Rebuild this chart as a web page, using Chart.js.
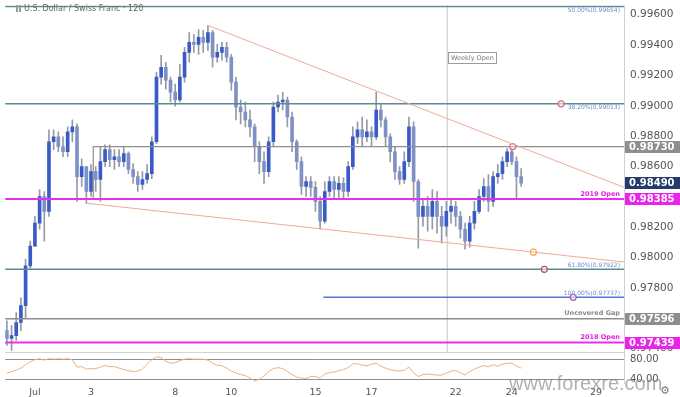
<!DOCTYPE html>
<html>
<head>
<meta charset="utf-8">
<script src="https://cdn.jsdelivr.net/npm/chart.js@4.4.1/dist/chart.umd.min.js"></script>
<style>
  html, body { margin: 0; padding: 0; background: #fff; }
  #wrap { width: 680px; height: 397px; position: relative; }
</style>
</head>
<body>
<div id="wrap"><canvas id="chart"></canvas></div>
<script>
// USD/CHF 120 min, late June - July 2019 (x axis in trading days from Jul 1)
const startDay = -1;
const candlesPerDay = 6;

const opens = [
  0.97518, 0.97466, 0.97485, 0.97571, 0.97682, 0.97944, 0.98075, 0.98226, 0.98402, 0.98304,
  0.98763, 0.98795, 0.98730, 0.98697, 0.98828, 0.98861, 0.98533, 0.98599, 0.98435, 0.98566,
  0.98514, 0.98632, 0.98711, 0.98645, 0.98664, 0.98632, 0.98684, 0.98580, 0.98533, 0.98481,
  0.98514, 0.98553, 0.98763, 0.99189, 0.99254, 0.99169, 0.99090, 0.99038, 0.99189, 0.99352,
  0.99418, 0.99405, 0.99451, 0.99418, 0.99483, 0.99320, 0.99352, 0.99385, 0.99320, 0.99156,
  0.98992, 0.98959, 0.98907, 0.98861, 0.98730, 0.98632, 0.98566, 0.98763, 0.98992, 0.99025,
  0.99038, 0.98926, 0.98763, 0.98632, 0.98468, 0.98501, 0.98462, 0.98370, 0.98239, 0.98435,
  0.98501, 0.98448, 0.98488, 0.98435, 0.98599, 0.98795, 0.98841, 0.98795, 0.98828, 0.98795,
  0.98972, 0.98907, 0.98795, 0.98697, 0.98566, 0.98514, 0.98632, 0.98861, 0.98501, 0.98271,
  0.98337, 0.98271, 0.98370, 0.98271, 0.98206, 0.98304, 0.98337, 0.98271, 0.98186, 0.98108,
  0.98226, 0.98304, 0.98402, 0.98468, 0.98370, 0.98533, 0.98553, 0.98632, 0.98697, 0.98632,
  0.98533
];
const highs = [
  0.97583, 0.97551, 0.97636, 0.97734, 0.97990, 0.98108, 0.98271, 0.98448, 0.98435, 0.98841,
  0.98841, 0.98828, 0.98795, 0.98861, 0.98907, 0.98881, 0.98651, 0.98599, 0.98612, 0.98599,
  0.98730, 0.98743, 0.98743, 0.98711, 0.98711, 0.98730, 0.98697, 0.98619, 0.98566, 0.98566,
  0.98612, 0.98795, 0.99221, 0.99333, 0.99287, 0.99189, 0.99143, 0.99274, 0.99385, 0.99483,
  0.99470, 0.99503, 0.99497, 0.99529, 0.99497, 0.99405, 0.99418, 0.99418, 0.99339, 0.99189,
  0.99038, 0.99025, 0.98972, 0.98881, 0.98763, 0.98697, 0.98795, 0.99025, 0.99071, 0.99090,
  0.99058, 0.98959, 0.98776, 0.98664, 0.98533, 0.98533, 0.98501, 0.98402, 0.98501, 0.98533,
  0.98533, 0.98533, 0.98527, 0.98632, 0.98861, 0.98894, 0.98926, 0.98907, 0.98861, 0.99090,
  0.99012, 0.98926, 0.98815, 0.98730, 0.98599, 0.98697, 0.98926, 0.98894, 0.98514, 0.98383,
  0.98402, 0.98448, 0.98435, 0.98337, 0.98370, 0.98389, 0.98370, 0.98304, 0.98226, 0.98271,
  0.98370, 0.98448, 0.98520, 0.98547, 0.98566, 0.98612, 0.98664, 0.98717, 0.98730, 0.98664,
  0.98586
];
const lows = [
  0.97420, 0.97387, 0.97453, 0.97518, 0.97597, 0.97924, 0.98075, 0.98186, 0.98108, 0.98271,
  0.98711, 0.98697, 0.98664, 0.98664, 0.98763, 0.98370, 0.98468, 0.98357, 0.98402, 0.98435,
  0.98370, 0.98599, 0.98599, 0.98580, 0.98599, 0.98599, 0.98553, 0.98488, 0.98435, 0.98448,
  0.98488, 0.98520, 0.98750, 0.99143, 0.99110, 0.99025, 0.98998, 0.99025, 0.99156, 0.99287,
  0.99352, 0.99339, 0.99352, 0.99365, 0.99254, 0.99287, 0.99300, 0.99287, 0.99103, 0.98907,
  0.98881, 0.98861, 0.98795, 0.98632, 0.98553, 0.98488, 0.98533, 0.98730, 0.98959, 0.98972,
  0.98861, 0.98697, 0.98580, 0.98416, 0.98402, 0.98402, 0.98304, 0.98186, 0.98226, 0.98402,
  0.98389, 0.98396, 0.98383, 0.98402, 0.98580, 0.98750, 0.98730, 0.98763, 0.98730, 0.98776,
  0.98861, 0.98730, 0.98632, 0.98514, 0.98481, 0.98488, 0.98599, 0.98370, 0.98062, 0.98206,
  0.98173, 0.98186, 0.98160, 0.98094, 0.98140, 0.98226, 0.98206, 0.98127, 0.98055, 0.98068,
  0.98186, 0.98291, 0.98370, 0.98304, 0.98337, 0.98488, 0.98514, 0.98599, 0.98612, 0.98383,
  0.98468
];
const closes = [
  0.97466, 0.97485, 0.97571, 0.97682, 0.97944, 0.98075, 0.98226, 0.98402, 0.98304, 0.98763,
  0.98795, 0.98730, 0.98697, 0.98828, 0.98861, 0.98533, 0.98599, 0.98435, 0.98566, 0.98514,
  0.98632, 0.98711, 0.98645, 0.98664, 0.98632, 0.98684, 0.98580, 0.98533, 0.98481, 0.98514,
  0.98553, 0.98763, 0.99189, 0.99254, 0.99169, 0.99090, 0.99038, 0.99189, 0.99352, 0.99418,
  0.99405, 0.99451, 0.99418, 0.99483, 0.99320, 0.99352, 0.99385, 0.99320, 0.99156, 0.98992,
  0.98959, 0.98907, 0.98861, 0.98730, 0.98632, 0.98566, 0.98763, 0.98992, 0.99025, 0.99038,
  0.98926, 0.98763, 0.98632, 0.98468, 0.98501, 0.98462, 0.98370, 0.98239, 0.98435, 0.98501,
  0.98448, 0.98488, 0.98435, 0.98599, 0.98795, 0.98841, 0.98795, 0.98828, 0.98795, 0.98972,
  0.98907, 0.98795, 0.98697, 0.98566, 0.98514, 0.98632, 0.98861, 0.98501, 0.98271, 0.98337,
  0.98271, 0.98370, 0.98271, 0.98206, 0.98304, 0.98337, 0.98271, 0.98186, 0.98108, 0.98226,
  0.98304, 0.98402, 0.98468, 0.98370, 0.98533, 0.98553, 0.98632, 0.98697, 0.98632, 0.98533,
  0.98490
];
const rsiValues = [
  52, 55, 58, 62, 69, 75, 79, 81, 78, 81,
  80, 81, 80, 81, 79, 64, 65, 60, 61, 61,
  64, 67, 65, 65, 62, 59, 57, 55, 56, 60,
  70, 79, 85, 83, 76, 72, 73, 77, 80, 81,
  80, 80, 80, 78, 72, 68, 67, 62, 56, 52,
  49, 47, 42, 36, 40, 46, 55, 61, 63, 61,
  55, 49, 44, 42, 41, 45, 45, 42, 50, 53,
  54, 57, 59, 63, 71, 71, 68, 67, 70, 72,
  66, 62, 59, 57, 56, 58, 64, 52, 45, 49,
  50, 49, 48, 48, 52, 56, 57, 53, 48, 55,
  60, 64, 67, 65, 69, 66, 70, 72, 72, 66,
  62
];

const tickDays = [0, 2, 5, 7, 10, 12, 15, 17, 20];
const tickLabels = ['Jul', '3', '8', '10', '15', '17', '22', '24', '29'];
const priceTicks = [0.974, 0.976, 0.978, 0.980, 0.982, 0.986, 0.988, 0.990, 0.992, 0.994, 0.996];
const rsiTicks = [40, 80];

const fibLevels = [0.99654, 0.99013, 0.97922, 0.97737];
const fibNames = ['50.00%(0.99654)', '38.20%(0.99013)', '61.80%(0.97922)', '100.00%(0.97737)'];
const fibStartDays = [-1.1, -1.1, -1.1, 10.28];
const keyLevels = [0.98385, 0.97596, 0.97439];
const keyNames = ['2019 Open', 'Uncovered Gap', '2018 Open'];
const resistance = 0.98730;
const resistanceStartDay = 2.08;
const upperTrendDays = [6.18, 21.0];
const upperTrendValues = [0.99529, 0.98462];
const lowerTrendDays = [1.87, 21.0];
const lowerTrendValues = [0.98357, 0.97970];
const weeklyOpenDay = 14.70;
const markerDays = [17.03, 17.77, 18.16, 18.76, 19.19];
const markerValues = [0.98730, 0.98035, 0.97922, 0.99013, 0.97737];

const xMin = -1.06, xMax = 21.0;

const candleDays = opens.map((_, i) => startDay + i / candlesPerDay);
const lastClose = closes[closes.length - 1];

function line(points, color, width, order) {
  return {
    type: 'line', data: points, borderColor: color, borderWidth: width,
    pointRadius: 0, fill: false, tension: 0, yAxisID: 'y', order: order
  };
}
function hline(value, from, color, width) {
  return line([{ x: from, y: value }, { x: xMax + 1, y: value }], color, width, 1);
}
function noPadding(s) {
  s.paddingTop = 0;
  s.paddingBottom = 0;
  s.paddingLeft = 0;
  s.paddingRight = 0;
}

const datasets = [];
// candles: wick + body as floating bars
datasets.push({
  type: 'bar', yAxisID: 'y', order: 3, grouped: false,
  data: candleDays.map((d, i) => ({ x: d, y: [lows[i], highs[i]] })),
  backgroundColor: '#959aa6', maxBarThickness: 1, barPercentage: 1, categoryPercentage: 1
});
datasets.push({
  type: 'bar', yAxisID: 'y', order: 2, grouped: false,
  data: candleDays.map((d, i) => ({ x: d, y: [opens[i], closes[i]] })),
  backgroundColor: closes.map((c, i) => c >= opens[i] ? '#3a5bc7' : '#7f90c4'),
  maxBarThickness: 3, barPercentage: 1, categoryPercentage: 1, minBarLength: 1
});
// levels
fibLevels.forEach((v, i) => {
  datasets.push(hline(v, fibStartDays[i], i === 3 ? '#5a73d2' : '#5c8a94', 1.5));
});
datasets.push(hline(keyLevels[0], xMin - 1, '#ea2fea', 2));
datasets.push(hline(keyLevels[1], xMin - 1, '#8e8e8e', 1.5));
datasets.push(hline(keyLevels[2], xMin - 1, '#ea2fea', 2));
datasets.push(line([
  { x: resistanceStartDay, y: keyLevels[0] },
  { x: resistanceStartDay, y: resistance },
  { x: xMax + 1, y: resistance }
], '#8e8e8e', 1.2, 1));
// trendlines
datasets.push(line(upperTrendDays.map((d, i) => ({ x: d, y: upperTrendValues[i] })), '#f1a99b', 1, 0));
datasets.push(line(lowerTrendDays.map((d, i) => ({ x: d, y: lowerTrendValues[i] })), '#f1a99b', 1, 0));
// weekly open
datasets.push(line([{ x: weeklyOpenDay, y: 0.9737 }, { x: weeklyOpenDay, y: 0.9970 }], '#c8c8c8', 1, 4));
// markers
datasets.push({
  type: 'line', yAxisID: 'y', order: 0, showLine: false,
  data: markerDays.map((d, i) => ({ x: d, y: markerValues[i] })),
  pointRadius: 3, pointBorderWidth: 1.2,
  pointBackgroundColor: 'rgba(255,255,255,0.5)',
  pointBorderColor: ['#e0707c', '#efaa45', '#b8505e', '#e06a78', '#a060b0']
});
// RSI
datasets.push({
  type: 'line', yAxisID: 'y2', order: 0,
  data: candleDays.map((d, i) => ({ x: d, y: rsiValues[i] })),
  borderColor: '#e8b47e', borderWidth: 1, pointRadius: 0, tension: 0
});

const overlay = {
  id: 'overlay',
  afterDraw(chart) {
    const { ctx, chartArea: a, scales: { x, y, y2 } } = chart;
    ctx.save();

    // top border of the RSI panel
    ctx.strokeStyle = '#d4d4d4';
    ctx.lineWidth = 1;
    ctx.beginPath();
    ctx.moveTo(a.left, Math.round(y2.top) + 0.5);
    ctx.lineTo(a.right, Math.round(y2.top) + 0.5);
    ctx.stroke();

    // fib labels
    const fibSide = [4, 4, -4, -4];
    ctx.textAlign = 'right';
    ctx.textBaseline = 'middle';
    ctx.font = '6px "DejaVu Sans"';
    ctx.fillStyle = '#6d8ccc';
    fibLevels.forEach((v, i) => {
      ctx.fillText(fibNames[i], a.right - 4, y.getPixelForValue(v) + fibSide[i]);
    });

    // key level labels
    ctx.font = 'bold 6.5px "DejaVu Sans"';
    const keyColors = ['#e020e0', '#8a8a8a', '#e020e0'];
    keyLevels.forEach((v, i) => {
      ctx.fillStyle = keyColors[i];
      ctx.fillText(keyNames[i], a.right - 4, y.getPixelForValue(v) - 5);
    });

    // weekly open tag
    const wx = Math.round(x.getPixelForValue(weeklyOpenDay)) + 1.5;
    const wy = Math.round(y.getPixelForValue(0.99316)) - 5.5;
    ctx.fillStyle = '#fff';
    ctx.fillRect(wx, wy, 48, 11);
    ctx.strokeStyle = '#9c9c9c';
    ctx.strokeRect(wx, wy, 48, 11);
    ctx.fillStyle = '#777';
    ctx.font = '6.5px "DejaVu Sans"';
    ctx.textAlign = 'center';
    ctx.fillText('Weekly Open', wx + 24, wy + 6);

    // price tags on the axis
    const tags = [
      [resistance, '#8e8e8e'],
      [lastClose, '#243b6b'],
      [keyLevels[0], '#ea22ea'],
      [keyLevels[1], '#8e8e8e'],
      [keyLevels[2], '#ea22ea']
    ];
    ctx.textAlign = 'left';
    ctx.font = 'bold 10px "DejaVu Sans"';
    tags.forEach(([v, col]) => {
      const py = Math.round(y.getPixelForValue(v));
      ctx.fillStyle = col;
      ctx.fillRect(a.right + 1, py - 6, chart.width - a.right - 1, 12);
      ctx.fillStyle = '#fff';
      ctx.fillText(v.toFixed(5), a.right + 5, py + 0.5);
    });

    // title
    ctx.fillStyle = '#9a9a9a';
    ctx.fillRect(16, 5, 2, 7);
    ctx.fillRect(19, 5, 2, 7);
    ctx.fillStyle = '#666';
    ctx.font = '8px "DejaVu Sans"';
    ctx.textBaseline = 'middle';
    ctx.fillText('U.S. Dollar / Swiss Franc \u00b7 120', 24, 9);

    // watermark
    ctx.fillStyle = 'rgba(125,125,125,0.6)';
    ctx.font = '20px "Liberation Sans"';
    ctx.fillText('www.forexre.com', 509, 384);

    // settings gear
    ctx.fillStyle = '#777';
    ctx.font = '11px "DejaVu Sans"';
    ctx.textAlign = 'center';
    ctx.fillText('\u2699', 665, 391);
    ctx.restore();
  }
};

new Chart(document.getElementById('chart'), {
  type: 'bar',
  data: { datasets: datasets },
  options: {
    responsive: true,
    maintainAspectRatio: false,
    animation: false,
    devicePixelRatio: 1,
    layout: { padding: { top: -2, left: 0, right: 0, bottom: 0 } },
    plugins: { legend: { display: false }, tooltip: { enabled: false } },
    scales: {
      x: {
        type: 'linear', min: xMin, max: xMax, offset: false,
        grid: { display: false, drawTicks: false },
        border: { display: false },
        afterBuildTicks: (s) => { s.ticks = tickDays.map(v => ({ value: v })); },
        afterFit: (s) => { s.height = 14; noPadding(s); },
        ticks: {
          autoSkip: false, maxRotation: 0, padding: 4,
          color: '#555', font: { family: 'DejaVu Sans', size: 9.5 },
          callback: (v) => tickLabels[tickDays.indexOf(v)]
        }
      },
      y: {
        type: 'linear', position: 'right', stack: 'panes', stackWeight: 350,
        min: 0.97375, max: 0.99663, beginAtZero: false,
        grid: { display: false, drawTicks: false },
        border: { display: true, color: '#d0d0d0' },
        afterBuildTicks: (s) => { s.ticks = priceTicks.map(v => ({ value: v })); },
        afterFit: (s) => { s.width = 56; noPadding(s); },
        ticks: {
          padding: 6, color: '#555', font: { family: 'DejaVu Sans', size: 10.5 },
          callback: (v) => v.toFixed(5)
        }
      },
      y2: {
        type: 'linear', position: 'right', stack: 'panes', stackWeight: 31,
        min: 32, max: 94,
        grid: { display: true, drawTicks: false, color: '#8e8e8e' },
        border: { display: true, color: '#d0d0d0' },
        afterBuildTicks: (s) => { s.ticks = rsiTicks.map(v => ({ value: v })); },
        afterFit: (s) => { s.width = 56; noPadding(s); },
        ticks: {
          padding: 6, color: '#555', font: { family: 'DejaVu Sans', size: 10 },
          callback: (v) => v.toFixed(2)
        }
      }
    }
  },
  plugins: [overlay]
});
</script>
</body>
</html>
